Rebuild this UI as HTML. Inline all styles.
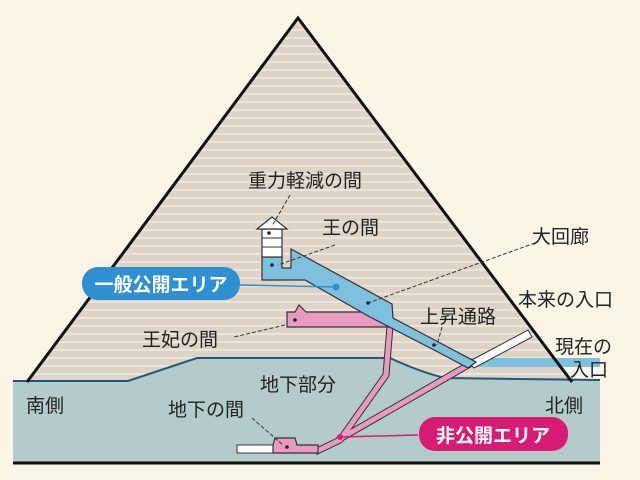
<!DOCTYPE html>
<html><head><meta charset="utf-8"><style>
html,body{margin:0;padding:0;background:#fbf5e8;}
svg{display:block}
text{font-family:"Liberation Sans","Noto Sans CJK JP",sans-serif;font-size:19px;fill:#222;}
</style></head><body>
<svg width="640" height="480" viewBox="0 0 640 480" xmlns="http://www.w3.org/2000/svg">
<defs>
<pattern id="st" width="12" height="8" patternUnits="userSpaceOnUse">
<rect width="12" height="8" fill="#ddd3c6"/>
<rect y="5" width="12" height="2" fill="#ebe4da"/>
</pattern>
</defs>
<rect width="640" height="480" fill="#fbf5e8"/>
<polygon points="298,18 27,382 572,382" fill="url(#st)"/>
<path d="M13,381 L128,381 L197,358 L390,358 Q420,372 445,378 L600,380 L600,462 L13,462 Z" fill="#b4cbcc"/>
<path d="M13,381 L128,381 L197,358 L390,358 Q420,372 445,378 L600,380" fill="none" stroke="#1f5a7a" stroke-width="2"/>
<line x1="13" y1="463" x2="600" y2="463" stroke="#111" stroke-width="3"/>
<rect x="470" y="358" width="130" height="9" fill="#7fc0df"/>
<polygon points="468,362 528,330 532,337 474,368" fill="#fff" stroke="#333" stroke-width="1"/>
<polyline points="27,382 298,18 572,382" fill="none" stroke="#111" stroke-width="3"/>
<path d="M390,326 L386,375 L340,440 L315,452 M470,364 L338,440" fill="none" stroke="#333" stroke-width="7" stroke-linejoin="round"/>
<path d="M390,326 L386,375 L340,440 L315,452 M470,364 L338,440" fill="none" stroke="#e89ac0" stroke-width="5" stroke-linejoin="round"/>
<polygon points="287,312 295,312 299,305 306,312 390,312 392,327 287,327" fill="#e89ac0" stroke="#333" stroke-width="1.2"/>
<rect x="237" y="445" width="36" height="8" fill="#fff" stroke="#333" stroke-width="1"/>
<polygon points="273,445 275,438 295,438 297,445 318,445 318,453 273,453" fill="#e89ac0" stroke="#333" stroke-width="1.2"/>
<polygon points="262,257 282,257 282,268 291,268 291,249 392,304 393,318 476,362 468,368 438,352 370,317 305,280 262,280" fill="#7fc0df" stroke="#333" stroke-width="1.2"/>
<rect x="262" y="229" width="20" height="28" fill="#fff" stroke="#333" stroke-width="1.2"/>
<line x1="262" y1="238" x2="282" y2="238" stroke="#333"/>
<line x1="262" y1="247" x2="282" y2="247" stroke="#333"/>
<polygon points="257,229 272,217 287,229" fill="#fff" stroke="#333" stroke-width="1.2"/>
<g stroke="#333" stroke-width="1" stroke-dasharray="4,2" fill="none">
<line x1="290" y1="195" x2="272" y2="226"/>
<line x1="335" y1="245" x2="278" y2="265"/>
<line x1="535" y1="243" x2="368" y2="303"/>
<line x1="442" y1="327" x2="437" y2="345"/>
<line x1="285" y1="325" x2="234" y2="337"/>
<line x1="252" y1="418" x2="283" y2="445"/>
</g>
<g fill="#222">
<circle cx="269" cy="233" r="1.8"/><circle cx="272" cy="265" r="1.8"/><circle cx="368" cy="303" r="1.8"/>
<circle cx="434" cy="345" r="1.8"/><circle cx="295" cy="320" r="1.8"/><circle cx="287" cy="447" r="1.8"/>
</g>
<line x1="240" y1="285" x2="336" y2="287" stroke="#2e8fd1" stroke-width="1.5"/>
<circle cx="336" cy="287" r="3.5" fill="#2e8fd1"/>
<line x1="418" y1="435" x2="340" y2="437" stroke="#d81b74" stroke-width="1.5"/>
<circle cx="340" cy="437" r="3" fill="#d81b74"/>
<rect x="82" y="267" width="158" height="33" rx="16" fill="#2e8fd1"/>
<text x="161" y="291" text-anchor="middle" style="fill:#fff;font-weight:bold;font-size:19px">一般公開エリア</text>
<rect x="419" y="417" width="149" height="34" rx="16" fill="#d81b74"/>
<text x="493" y="442" text-anchor="middle" style="fill:#fff;font-weight:bold;font-size:19px">非公開エリア</text>
<text x="248" y="187">重力軽減の間</text>
<text x="322" y="234">王の間</text>
<text x="532" y="243">大回廊</text>
<text x="518" y="306">本来の入口</text>
<text x="420" y="323">上昇通路</text>
<text x="142" y="346">王妃の間</text>
<text x="555" y="353">現在の</text>
<text x="570" y="376">入口</text>
<text x="26" y="412">南側</text>
<text x="545" y="412">北側</text>
<text x="260" y="391">地下部分</text>
<text x="168" y="416">地下の間</text>
</svg>
</body></html>
